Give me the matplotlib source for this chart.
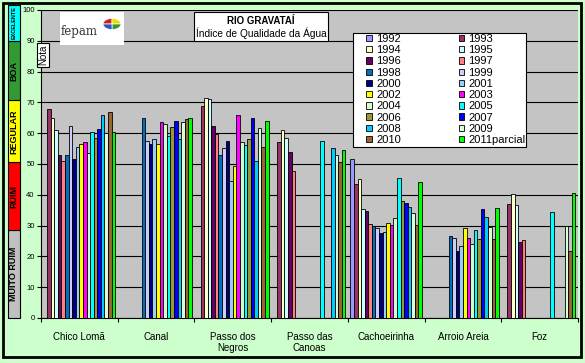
import numpy as np
import matplotlib.pyplot as plt
from matplotlib.patches import Rectangle, Wedge

plt.rcParams['font.family'] = ['Liberation Sans', 'DejaVu Sans']

# ── DATA ───────────────────────────────────────────────────────────────────────
nan = np.nan
YEARS = [str(y) for y in range(1992, 2011)] + ['2011parcial']
SITES = ['Chico Lomã', 'Canal', 'Passo dos\nNegros', 'Passo das\nCanoas',
         'Cachoeirinha', 'Arroio Areia', 'Foz']

chico_loma = [nan, 68, 65, 61, 53, 51, 53, 62.5, 51.5, 55.5,
              56.5, 57, 53.5, 60.5, 58.5, 61.5, 66, 60, 67, 60.5]
canal      = [nan, nan, nan, nan, nan, nan, 65, 57.5, 56.5, 58,
              56.5, 63.5, 63, 59, 62, 64, 58, 63.5, 64.5, 65]
passo_neg  = [nan, 68.8, 71.3, 71, 62.3, 59.7, 52.8, 55.1, 57.4, 44.5,
              49.2, 65.9, 57, 56.1, 58, 64.8, 50.9, 61.6, 55.4, 63.9]
passo_can  = [nan, 57, 61, 58.5, 54, 47.7, nan, nan, nan, nan,
              nan, nan, nan, 57.4, nan, nan, 55.1, 52.8, 50.6, 54.4]
cachoeir   = [51.5, 43.6, 45, 35.3, 34.6, 30.6, 29.9, 29.3, 27.6, 27.8,
              30.7, 30.1, 32.4, 45.4, 37.9, 37.2, 36, 34, 30.1, 44.1]
arroio     = [nan, nan, nan, nan, nan, nan, 26.6, 25.9, 21.8, 23.4,
              29.2, 25.9, 24, 28.5, 25.5, 35.4, 32.7, 29.5, 25.5, 35.7]
foz        = [nan, 36.9, 40.2, 36.6, 24.6, 25.2, nan, nan, nan, nan,
              nan, nan, nan, 34.3, nan, nan, nan, 30, 21.8, 40.5]

COLORS = ['#9999FF', '#993366', '#FFFFCC', '#CCFFFF', '#660066',
          '#FF8080', '#0070C0', '#CCCCFF', '#000080', '#99CCFF',
          '#FFFF00', '#FF00FF', '#CCFFCC', '#00FFFF', '#999933',
          '#0000FF', '#00CCFF', '#D8FFD8', '#996633', '#00FF00']

BANDS  = ['MUITO RUIM', 'RUIM', 'REGULAR', 'BOA', 'EXCELENTE']
B_LOW  = [0, 28.5, 50.5, 70.7, 90]
B_HIGH = [28.5, 50.5, 70.7, 90, 101.6]
B_COL  = ['#C0C0C0', '#FF0000', '#FFFF00', '#339933', '#00FFFF']

values = np.array([chico_loma, canal, passo_neg, passo_can,
                   cachoeir, arroio, foz])

# ── FIGURE ─────────────────────────────────────────────────────────────────────
W, H = 585, 363
fig = plt.figure(figsize=(W / 100, H / 100), dpi=100, facecolor='#CCFFCC')

def fx(px): return px / W
def fy(py): return 1 - py / H

ax = fig.add_axes([fx(41), fy(318), fx(578) - fx(41), fy(10) - fy(318)])
ax.set_facecolor('#C4C4C4')

n_years = len(YEARS)
span = 0.934
w = span / n_years
groups = np.arange(len(SITES))
bars = []
for i, year in enumerate(YEARS):
    b = ax.bar(groups - span / 2 + i * w, values[:, i], width=w, align='edge',
               color=COLORS[i], edgecolor='black', linewidth=0.6,
               label=year, zorder=3)
    bars.append(b)

ax.set_xlim(-0.5, len(SITES) - 0.5)
ax.set_ylim(0, 100)
ax.set_yticks(np.arange(0, 101, 10))
ax.yaxis.grid(True, color='black', linewidth=0.8)
ax.set_axisbelow(True)
ax.tick_params(axis='y', direction='out', length=3, width=0.8,
               labelsize=5.5, pad=1.5)

ax.set_xticks(np.arange(-0.5, len(SITES), 1.0))
ax.set_xticklabels([])
ax.set_xticks(groups, minor=True)
ax.set_xticklabels(SITES, minor=True, fontsize=7)
ax.tick_params(axis='x', which='major', direction='out', length=3, width=0.8)
ax.tick_params(axis='x', which='minor', length=0, pad=10)

for side in ['top', 'right']:
    ax.spines[side].set_visible(False)
for side in ['left', 'bottom']:
    ax.spines[side].set_linewidth(0.8)

# ── QUALITY BAND ───────────────────────────────────────────────────────────────
bx = fig.add_axes([fx(8), fy(318), fx(12), fy(10) - fy(318)])
bx.set_xlim(0, 1)
bx.set_ylim(0, 100)
bx.axis('off')
for name, lo, hi, col in zip(BANDS, B_LOW, B_HIGH, B_COL):
    bx.bar(0.5, hi - lo, bottom=lo, width=1, color=col, edgecolor='black',
           linewidth=0.8, clip_on=False)
    fs = 4 if name == 'EXCELENTE' else 6.5
    bx.text(0.5, (lo + hi) / 2, name, rotation=90, ha='center', va='center',
            fontsize=fs, fontweight='bold', color='black', clip_on=False)

# ── NOTA LABEL ─────────────────────────────────────────────────────────────────
fig.text(fx(43), fy(55), 'Nota', rotation=90, ha='center', va='center',
         fontsize=7, bbox=dict(boxstyle='square,pad=0.15', fc='white',
                               ec='black', lw=0.8))

# ── TITLE BOX ──────────────────────────────────────────────────────────────────
fig.patches.append(Rectangle((fx(194), fy(41)), fx(328) - fx(194), fy(12) - fy(41),
                             transform=fig.transFigure, fc='white',
                             ec='black', lw=0.8))
fig.text(fx(261), fy(21), 'RIO GRAVATAÍ', ha='center', va='center',
         fontsize=7, fontweight='bold')
fig.text(fx(261), fy(33), 'Índice de Qualidade da Água', ha='center',
         va='center', fontsize=7.3)

# ── LOGO ───────────────────────────────────────────────────────────────────────
fig.patches.append(Rectangle((fx(60), fy(45)), fx(124) - fx(60), fy(12) - fy(45),
                             transform=fig.transFigure, fc='white', ec='none'))
fig.text(fx(61), fy(31), 'fepam', ha='left', va='center', fontsize=8.5,
         family='DejaVu Serif', color='#333333')
for th1, th2, col in [(90, 180, '#CC2222'), (0, 90, '#EEDD00'),
                      (270, 360, '#339933'), (180, 270, '#3355BB')]:
    fig.patches.append(Wedge((fx(112), fy(24)), fx(9), th1, th2,
                             transform=fig.transFigure, fc=col, ec='white',
                             lw=0.5))

# ── LEGEND ─────────────────────────────────────────────────────────────────────
fig.patches.append(Rectangle((fx(353), fy(147)), fx(526) - fx(353), fy(33) - fy(147),
                             transform=fig.transFigure, fc='white',
                             ec='black', lw=0.8))
order = list(range(0, n_years, 2)) + list(range(1, n_years, 2))
leg = fig.legend([bars[i] for i in order], [YEARS[i] for i in order],
                 ncol=2, loc='upper left', bbox_to_anchor=(fx(366), fy(34)),
                 fontsize=8, frameon=False, handlelength=0.5,
                 handleheight=0.5, handletextpad=0.4, labelspacing=0.11,
                 columnspacing=5.2, borderpad=0, borderaxespad=0)

# ── OUTER FRAME ────────────────────────────────────────────────────────────────
fig.patches.append(Rectangle((fx(3), fy(357)), fx(581) - fx(3), fy(3) - fy(357),
                             transform=fig.transFigure, fc='none',
                             ec='black', lw=2))

plt.savefig('out.png', dpi=100, facecolor=fig.get_facecolor())
plt.close()
